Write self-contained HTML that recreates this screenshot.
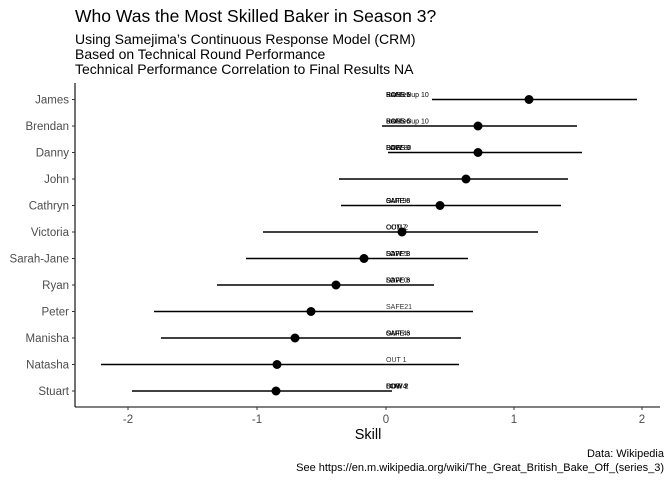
<!DOCTYPE html>
<html><head><meta charset="utf-8"><style>
body{margin:0;background:#fff;}
svg{display:block;font-family:"Liberation Sans",sans-serif;}
</style></head><body>
<svg width="672" height="480" viewBox="0 0 672 480" xmlns="http://www.w3.org/2000/svg">
<text x="75" y="22" font-size="17.5" fill="#000">Who Was the Most Skilled Baker in Season 3?</text>
<text x="75" y="44" font-size="14" fill="#000">Using Samejima’s Continuous Response Model (CRM)</text>
<text x="75" y="59" font-size="14" fill="#000">Based on Technical Round Performance</text>
<text x="75" y="74" font-size="14" fill="#000">Technical Performance Correlation to Final Results NA</text>

<line x1="75" y1="83" x2="75" y2="407" stroke="#000" stroke-width="1.1"/>
<line x1="75" y1="407" x2="660" y2="407" stroke="#000" stroke-width="1.1"/>

<g font-size="11.5" fill="#4d4d4d" text-anchor="end">
<text x="69" y="103.5">James</text>
<text x="69" y="130">Brendan</text>
<text x="69" y="156.5">Danny</text>
<text x="69" y="183">John</text>
<text x="69" y="209.5">Cathryn</text>
<text x="69" y="236">Victoria</text>
<text x="69" y="262.5">Sarah-Jane</text>
<text x="69" y="289">Ryan</text>
<text x="69" y="315.5">Peter</text>
<text x="69" y="342">Manisha</text>
<text x="69" y="368.5">Natasha</text>
<text x="69" y="395">Stuart</text>
</g>
<g stroke="#333" stroke-width="1">
<line x1="72" y1="99.5" x2="75" y2="99.5"/><line x1="72" y1="126" x2="75" y2="126"/>
<line x1="72" y1="152.5" x2="75" y2="152.5"/><line x1="72" y1="179" x2="75" y2="179"/>
<line x1="72" y1="205.5" x2="75" y2="205.5"/><line x1="72" y1="232" x2="75" y2="232"/>
<line x1="72" y1="258.5" x2="75" y2="258.5"/><line x1="72" y1="285" x2="75" y2="285"/>
<line x1="72" y1="311.5" x2="75" y2="311.5"/><line x1="72" y1="338" x2="75" y2="338"/>
<line x1="72" y1="364.5" x2="75" y2="364.5"/><line x1="72" y1="391" x2="75" y2="391"/>
<line x1="128" y1="407" x2="128" y2="410"/><line x1="257" y1="407" x2="257" y2="410"/>
<line x1="386" y1="407" x2="386" y2="410"/><line x1="514" y1="407" x2="514" y2="410"/>
<line x1="642" y1="407" x2="642" y2="410"/>
</g>
<g font-size="11.5" fill="#4d4d4d" text-anchor="middle">
<text x="128" y="423">-2</text><text x="257" y="423">-1</text><text x="386" y="423">0</text>
<text x="514" y="423">1</text><text x="642" y="423">2</text>
</g>
<text x="368" y="439" font-size="14.5" fill="#000" text-anchor="middle">Skill</text>
<g font-size="11" fill="#000" text-anchor="end">
<text x="664" y="457">Data: Wikipedia</text>
<text x="664" y="471">See https://en.m.wikipedia.org/wiki/The_Great_British_Bake_Off_(series_3)</text>
</g>

<g stroke="#000" stroke-width="1.4">
<line x1="432" y1="99.5" x2="637" y2="99.5"/>
<line x1="382" y1="126" x2="577" y2="126"/>
<line x1="388" y1="152.5" x2="582" y2="152.5"/>
<line x1="339" y1="179" x2="568" y2="179"/>
<line x1="341" y1="205.5" x2="561" y2="205.5"/>
<line x1="263" y1="232" x2="538" y2="232"/>
<line x1="246" y1="258.5" x2="468" y2="258.5"/>
<line x1="217" y1="285" x2="434" y2="285"/>
<line x1="154" y1="311.5" x2="473" y2="311.5"/>
<line x1="161" y1="338" x2="461" y2="338"/>
<line x1="101" y1="364.5" x2="459" y2="364.5"/>
<line x1="132" y1="391" x2="392" y2="391"/>
</g>
<g fill="#000">
<circle cx="529" cy="99.5" r="4.5"/><circle cx="478" cy="126" r="4.5"/>
<circle cx="478" cy="152.5" r="4.5"/><circle cx="466" cy="179" r="4.5"/>
<circle cx="440" cy="205.5" r="4.5"/><circle cx="402" cy="232" r="4.5"/>
<circle cx="364" cy="258.5" r="4.5"/><circle cx="336" cy="285" r="4.5"/>
<circle cx="311" cy="311.5" r="4.5"/><circle cx="295" cy="338" r="4.5"/>
<circle cx="277" cy="364.5" r="4.5"/><circle cx="276" cy="391" r="4.5"/>
</g>
<g font-size="7" fill="#000">
<text x="386" y="97">Runner-up 10</text><text x="386" y="97">SAFE 5</text><text x="386" y="97">BOSS 8</text>
<text x="386" y="123.5">Runner-up 10</text><text x="386" y="123.5">BOSS 3</text><text x="386" y="123.5">SAFE 6</text>
<text x="386" y="150">SAFE 9</text><text x="386" y="150">BOSS 0</text><text x="386" y="150">LOW 8</text>
<text x="386" y="203">SAFE 8</text><text x="386" y="203">SAFE 6</text><text x="386" y="203">OUT 9</text>
<text x="386" y="229.5">COM 2</text><text x="386" y="229.5">OUT 7</text>
<text x="386" y="256">SAFE 3</text><text x="386" y="256">SAFE 8</text><text x="386" y="256">LOW 5</text>
<text x="386" y="282.5">SAFE 6</text><text x="386" y="282.5">SAFE 3</text><text x="386" y="282.5">LOW 0</text>
<text x="386" y="309" fill="#333">SAFE21</text>
<text x="386" y="335.5">SAFE 3</text><text x="386" y="335.5">SAFE 6</text><text x="386" y="335.5">OUT 4</text>
<text x="386" y="362" fill="#333">OUT 1</text>
<text x="386" y="388.5">LOW 3</text><text x="386" y="388.5">BOW 2</text><text x="386" y="388.5">OUT 4</text>
</g>
</svg>
</body></html>
